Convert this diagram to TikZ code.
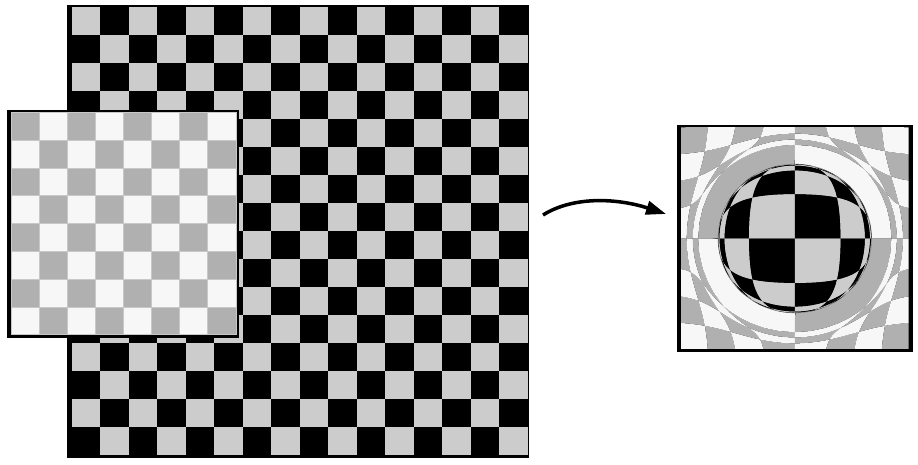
\documentclass[tikz,border=0pt]{standalone}
\usetikzlibrary{arrows.meta}
\definecolor{boardgray}{HTML}{CCCCCC}
\definecolor{fadedark}{HTML}{B0B0B0}
\definecolor{fadelight}{HTML}{F7F7F7}
\definecolor{fadeline}{HTML}{C8C8C8}
\definecolor{lensrim}{HTML}{707070}

\begin{document}
\begin{tikzpicture}[x=0.02cm, y=0.02cm,
    declare function={
      sqx(\q)=min(max(\q,0),1)-min(max(\q-2,0),1);
      sqy(\q)=min(max(\q-1,0),1)-min(max(\q-3,0),1);
      lensrad(\a,\b)=veclen(\a,\b)+0.001;
      lensout(\r)=1+2.75*exp(-(\r/2.7)*(\r/2.7))/\r;
      lensin(\r)=2.7/(\r*\r*\r*\r+6.9)^0.25;
    },
    fadetile/.style={draw=fadeline, line width=0.3pt},
    bend arrow/.style={line width=2pt, -{Triangle[length=0.4cm, width=0.27cm]}}]

    \useasboundingbox (0,0) rectangle (918,465);

    \fill (67,7) rectangle (529,460);
    \foreach \c in {0,...,15}
      \foreach \r in {0,...,15}{
        \ifodd\numexpr\c+\r\relax\else
          \fill[boardgray] ({71.5+28.5*\c},{458-28*\r}) rectangle ++(28.5,-28);
        \fi
      }

    \fill (7,127) rectangle (239,355);
    \foreach \c in {0,...,7}
      \foreach \r in {0,...,7}{
        \ifodd\numexpr\c+\r\relax\def\tilecol{fadelight}\else\def\tilecol{fadedark}\fi
        \fill[fadetile, fill=\tilecol] ({11+28.1*\c},{352.7-27.8*\r}) rectangle ++(28.1,-27.8);
      }

    \fill (677,113) rectangle (912.7,340);
    \begin{scope}
      \clip (681,116) rectangle (908.7,337);
      \foreach \i in {-4,...,3}
        \foreach \j in {-4,...,3}{
          \ifodd\numexpr\i+\j+10\relax\def\tilecol{fadedark}\else\def\tilecol{fadelight}\fi
          \fill[fill=\tilecol] plot[domain=0:4, samples=25, variable=\q]
            ({794.8+28.46*(\i+sqx(\q))*lensout(lensrad(\i+sqx(\q),\j+sqy(\q)))},
             {226.5+27.6*(\j+sqy(\q))*lensout(lensrad(\i+sqx(\q),\j+sqy(\q)))}) -- cycle;
        }
      \fill[lensrim] (794.8,226.5) circle[x radius=77, y radius=74.6];
      \foreach \i in {-5,...,4}
        \foreach \j in {-5,...,4}{
          \ifodd\numexpr\i+\j+10\relax\def\tilecol{boardgray}\else\def\tilecol{black}\fi
          \fill[fill=\tilecol] plot[domain=0:4, samples=25, variable=\q]
            ({794.8+28.46*(\i+sqx(\q))*lensin(lensrad(\i+sqx(\q),\j+sqy(\q)))},
             {226.5+27.6*(\j+sqy(\q))*lensin(lensrad(\i+sqx(\q),\j+sqy(\q)))}) -- cycle;
        }
    \end{scope}

    \coordinate (arrowfrom) at (543,250);
    \coordinate (arrowto) at (666,251);
    \draw[bend arrow] (arrowfrom) .. controls (575,270) and (620,266) .. (arrowto);

\end{tikzpicture}
\end{document}
